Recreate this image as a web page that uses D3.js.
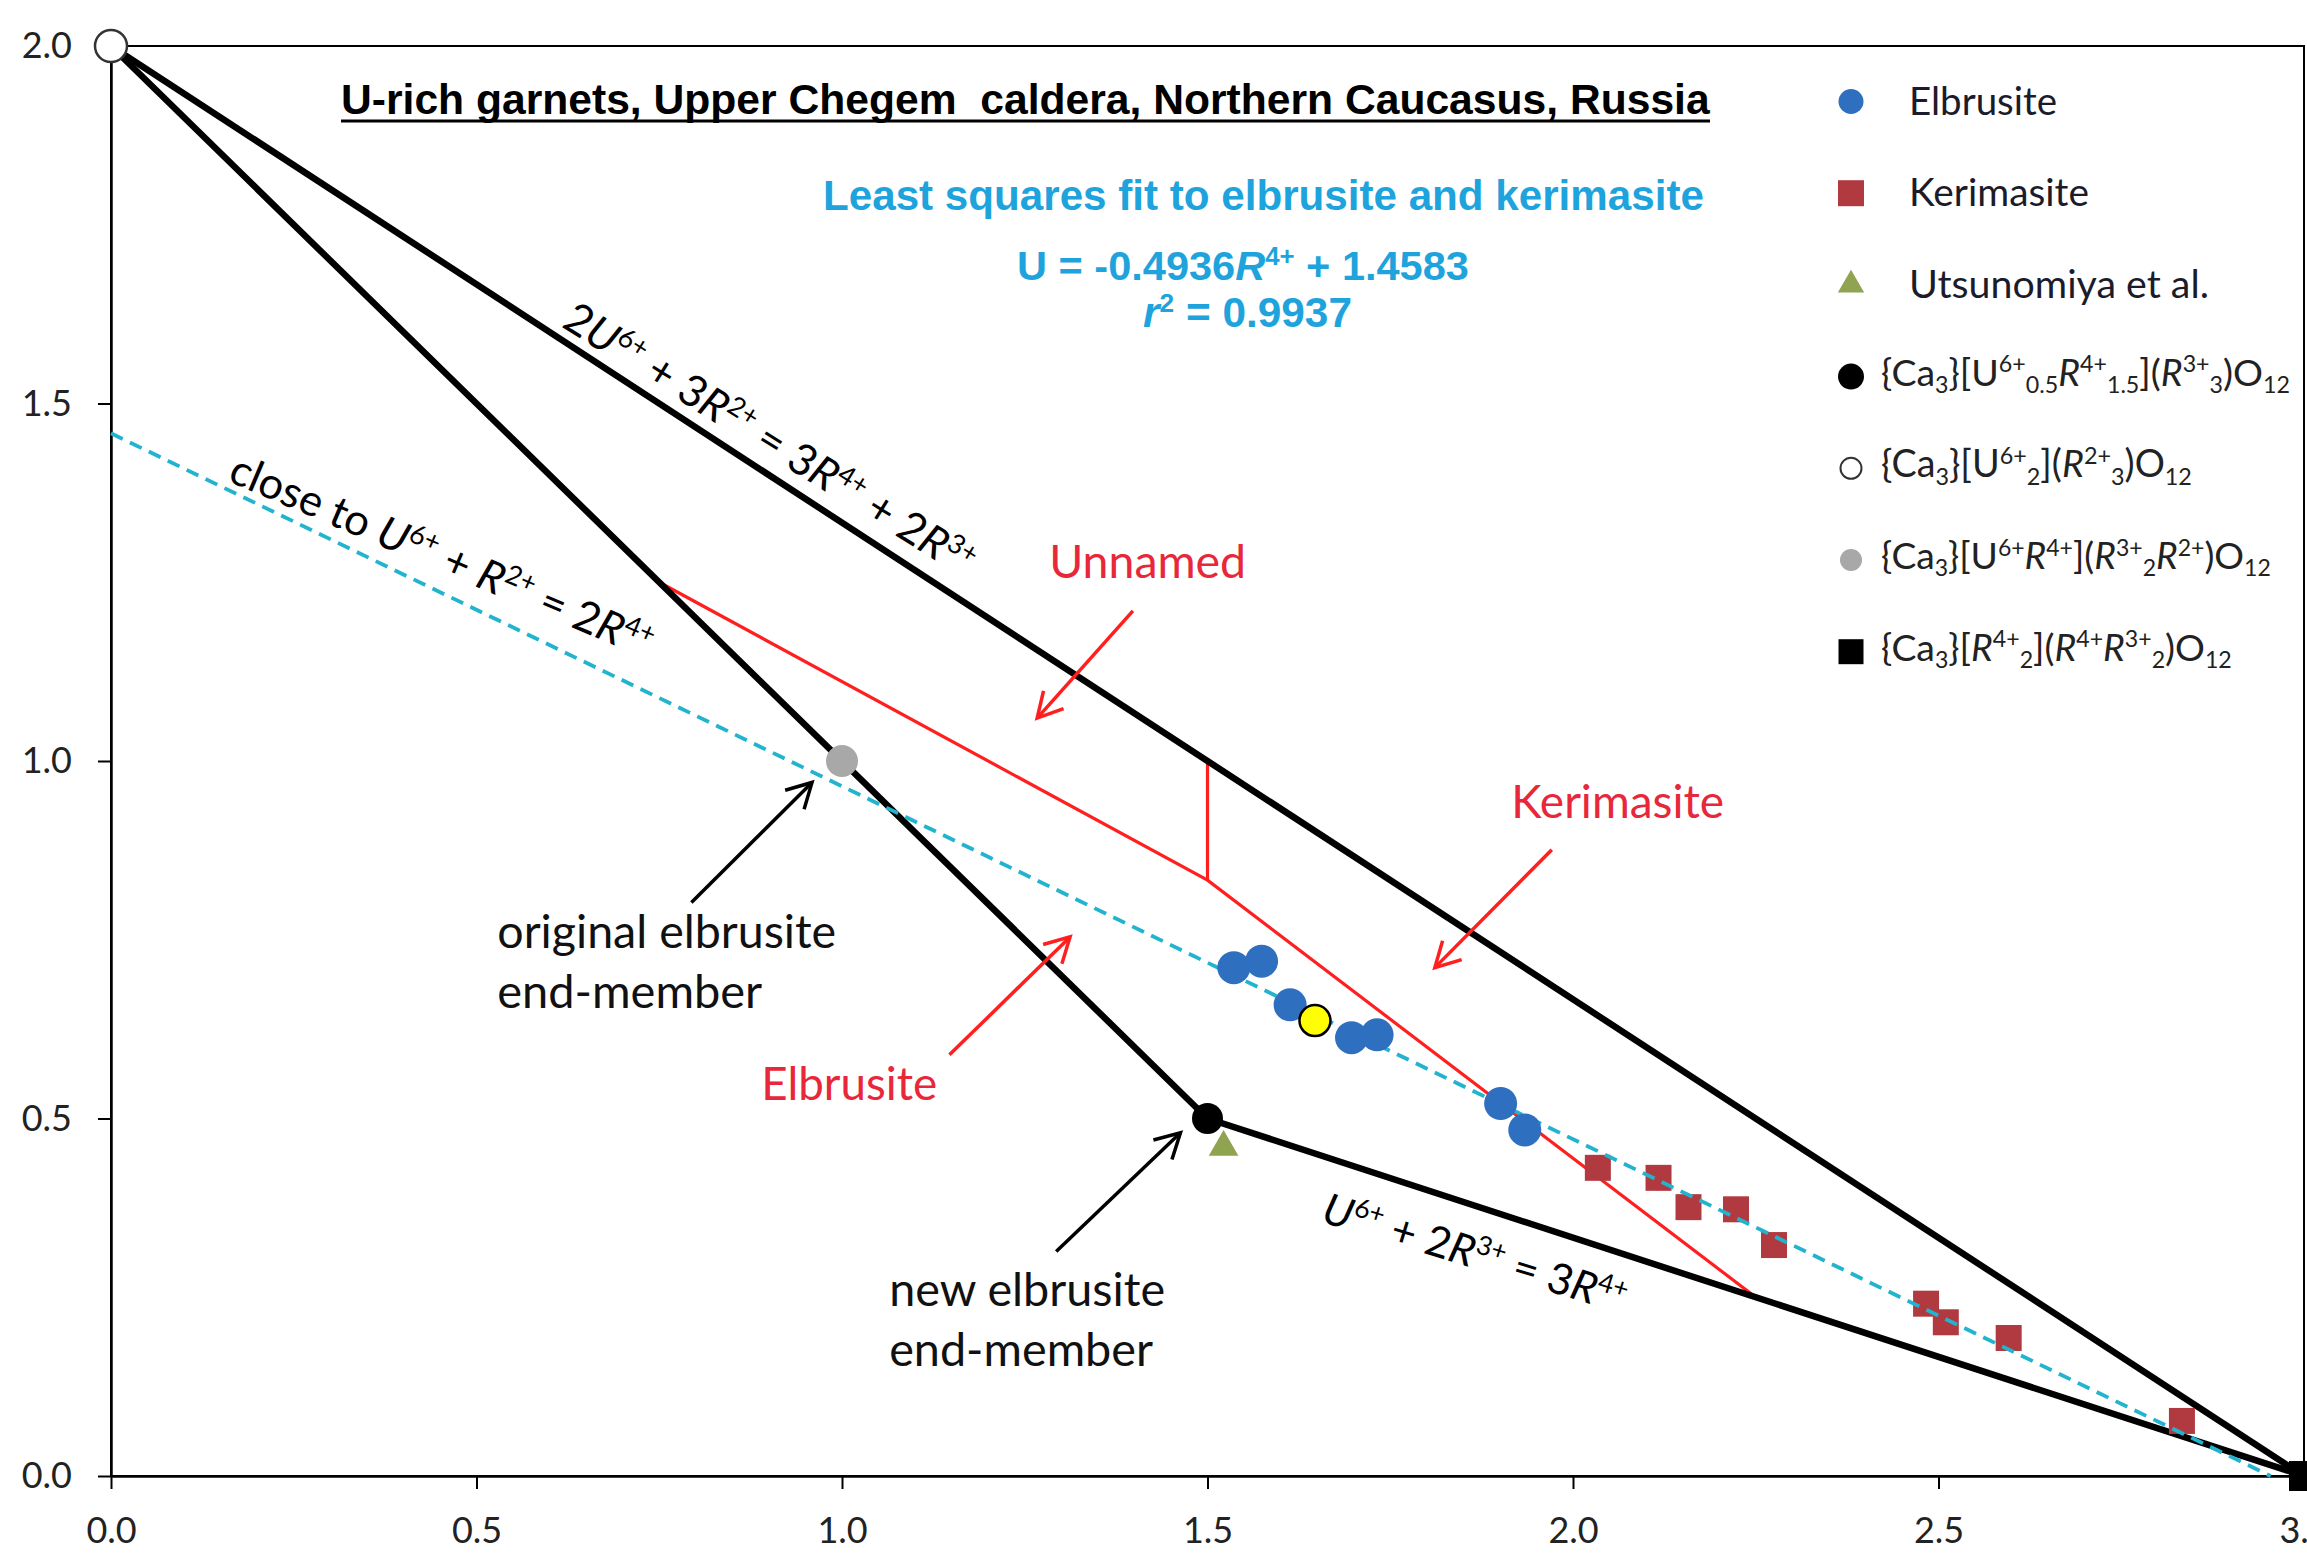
<!DOCTYPE html>
<html>
<head>
<meta charset="utf-8">
<script src="https://cdn.jsdelivr.net/npm/d3@7"></script>
<style>
  body { margin: 0; background: #fff; }
  svg { display: block; }
</style>
</head>
<body>
<div id="wrapper"></div>
<script>
// axis ticks
const xTicks = [0, 0.5, 1, 1.5, 2, 2.5, 3];
const yTicks = [0, 0.5, 1, 1.5, 2];

const elbrusiteX = [1.536, 1.574, 1.613, 1.697, 1.732, 1.901, 1.934];
const elbrusiteY = [0.711, 0.720, 0.659, 0.613, 0.617, 0.521, 0.484];
const kerimasiteX = [2.034, 2.117, 2.158, 2.223, 2.275, 2.483, 2.510, 2.596, 2.833];
const kerimasiteY = [0.431, 0.417, 0.376, 0.373, 0.323, 0.241, 0.215, 0.193, 0.077];
const utsunomiyaX = [1.522];
const utsunomiyaY = [0.46];
const highlightX = [1.647];
const highlightY = [0.637];

// end-members: {Ca3}[U0.5R1.5](R3), {Ca3}[U2](R3), {Ca3}[UR](R2R), {Ca3}[R2](RR2)
const endMemberX = [1.5, 0, 1, 3];
const endMemberY = [0.5, 2, 1, 0];

// tie lines and field boundaries
const boundaryLines = [
    [[0, 2], [3, 0]],
    [[0, 2], [1.5, 0.5], [3, 0]]
];
const fieldLines = [
    [[0.75, 1.25], [1.5, 0.8333], [2.25, 0.25]],
    [[1.5, 0.8333], [1.5, 1.0]]
];

// least squares fit
const fitSlope = -0.4936;
const fitIntercept = 1.4583;

const legendLabels = [
    [["Elbrusite"]],
    [["Kerimasite"]],
    [["Utsunomiya et al."]],
    [["{Ca"], ["3", "_"], ["}[U"], ["6+", "^"], ["0.5", "_"], ["R", "i"], ["4+", "^"], ["1.5", "_"], ["]("], ["R", "i"], ["3+", "^"], ["3", "_"], [")O"], ["12", "_"]],
    [["{Ca"], ["3", "_"], ["}[U"], ["6+", "^"], ["2", "_"], ["]("], ["R", "i"], ["2+", "^"], ["3", "_"], [")O"], ["12", "_"]],
    [["{Ca"], ["3", "_"], ["}[U"], ["6+", "^"], ["R", "i"], ["4+", "^"], ["]("], ["R", "i"], ["3+", "^"], ["2", "_"], ["R", "i"], ["2+", "^"], [")O"], ["12", "_"]],
    [["{Ca"], ["3", "_"], ["}["], ["R", "i"], ["4+", "^"], ["2", "_"], ["]("], ["R", "i"], ["4+", "^"], ["R", "i"], ["3+", "^"], ["2", "_"], [")O"], ["12", "_"]]
];

function addRich(text, parts, size) {
    text.selectAll("tspan").remove();
    let cur = 0;
    parts.forEach(([s, f = ""]) => {
        const small = f.includes("^") || f.includes("_");
        const off = f.includes("^") ? -0.36 * size : f.includes("_") ? 0.2 * size : 0;
        text.append("tspan")
            .attr("dy", off - cur)
            .attr("font-size", small ? 0.62 * size : size)
            .attr("font-style", f.includes("i") ? "italic" : "normal")
            .text(s);
        cur = off;
    });
}

function fitRich(text, parts, size, w) {
    addRich(text, parts, size);
    const l = text.node().getComputedTextLength();
    addRich(text, parts, size * w / l);
}

function fitPlain(text, size, w) {
    text.attr("font-size", size);
    const l = text.node().getComputedTextLength();
    text.attr("font-size", size * w / l);
}

function buildPlot() {
    var dimension = {
        width: 2307,
        height: 1554,
        margin: { top: 46, left: 111, right: 3, bottom: 78 }
    };
    dimension.boundedWidth = dimension.width - dimension.margin.left - dimension.margin.right;
    dimension.boundedHeight = dimension.height - dimension.margin.top - dimension.margin.bottom;

    const svg = d3.select("#wrapper").append("svg")
        .attr("width", dimension.width)
        .attr("height", dimension.height);
    svg.append("rect").attr("width", dimension.width).attr("height", dimension.height).attr("fill", "#fff");

    const bounded = svg.append("g")
        .attr("transform", `translate(${dimension.margin.left},${dimension.margin.top})`);

    const xScaler = d3.scaleLinear().domain([0, 3]).range([0, dimension.boundedWidth]);
    const yScaler = d3.scaleLinear().domain([0, 2]).range([dimension.boundedHeight, 0]);
    const px = d => xScaler(d[0]);
    const py = d => yScaler(d[1]);

    // plot frame
    bounded.append("rect")
        .attr("width", dimension.boundedWidth)
        .attr("height", dimension.boundedHeight)
        .attr("fill", "none")
        .attr("stroke", "#000")
        .attr("stroke-width", 2);

    const tickFont = "Lato, 'Open Sans', sans-serif";
    const xAxis = d3.axisBottom(xScaler).tickValues(xTicks).tickFormat(d3.format(".1f"))
        .tickSize(13).tickSizeOuter(0).tickPadding(28);
    const yAxis = d3.axisLeft(yScaler).tickValues(yTicks).tickFormat(d3.format(".1f"))
        .tickSize(13).tickSizeOuter(0).tickPadding(26);

    const gx = bounded.append("g")
        .attr("transform", `translate(0,${dimension.boundedHeight})`)
        .call(xAxis);
    const gy = bounded.append("g").call(yAxis);
    [gx, gy].forEach(g => {
        g.select(".domain").attr("stroke-width", 2.5);
        g.selectAll(".tick line").attr("stroke-width", 2);
        g.selectAll(".tick text")
            .attr("font-family", tickFont)
            .attr("font-size", 36)
            .attr("fill", "#222");
    });

    const lineGenerator = d3.line().x(px).y(py);

    // field boundaries in red
    bounded.selectAll(".field").data(fieldLines).join("path")
        .attr("d", lineGenerator)
        .attr("fill", "none")
        .attr("stroke", "#ff1f1f")
        .attr("stroke-width", 3.2);

    // tie lines
    bounded.selectAll(".tie").data(boundaryLines).join("path")
        .attr("d", lineGenerator)
        .attr("fill", "none")
        .attr("stroke", "#000")
        .attr("stroke-width", 6.5)
        .attr("stroke-linejoin", "round");

    // kerimasite squares
    bounded.append("g").selectAll("path")
        .data(d3.zip(kerimasiteX, kerimasiteY)).join("path")
        .attr("transform", d => `translate(${px(d)},${py(d)})`)
        .attr("d", d3.symbol(d3.symbolSquare, 26 * 26))
        .attr("fill", "#b03a40");

    // least squares fit line
    const fitEnd = -fitIntercept / fitSlope;
    bounded.append("path")
        .attr("d", lineGenerator([[0, fitIntercept], [fitEnd, fitIntercept + fitSlope * fitEnd]]))
        .attr("fill", "none")
        .attr("stroke", "#22b4cf")
        .attr("stroke-width", 3.8)
        .attr("stroke-dasharray", "13,8");

    // elbrusite circles
    bounded.append("g").selectAll("circle")
        .data(d3.zip(elbrusiteX, elbrusiteY)).join("circle")
        .attr("cx", px).attr("cy", py).attr("r", 16.5)
        .attr("fill", "#2f6fc0");

    bounded.append("g").selectAll("path")
        .data(d3.zip(utsunomiyaX, utsunomiyaY)).join("path")
        .attr("transform", d => `translate(${px(d)},${py(d)})`)
        .attr("d", d3.symbol(d3.symbolTriangle, 380))
        .attr("fill", "#8fa350");

    bounded.append("g").selectAll("circle")
        .data(d3.zip(highlightX, highlightY)).join("circle")
        .attr("cx", px).attr("cy", py).attr("r", 15.5)
        .attr("fill", "#ffff00")
        .attr("stroke", "#000")
        .attr("stroke-width", 2.5);

    // end-member markers
    const em = d3.zip(endMemberX, endMemberY);
    const emStyle = [
        { shape: "circle", fill: "#000", stroke: "none", r: 15.5 },
        { shape: "circle", fill: "#fff", stroke: "#333", r: 16 },
        { shape: "circle", fill: "#a8a8a8", stroke: "none", r: 16 },
        { shape: "square", fill: "#000", stroke: "none", r: 15 }
    ];
    em.forEach((d, i) => {
        const s = emStyle[i];
        if (s.shape === "circle") {
            bounded.append("circle").attr("cx", px(d)).attr("cy", py(d)).attr("r", s.r)
                .attr("fill", s.fill).attr("stroke", s.stroke).attr("stroke-width", 2.5);
        } else {
            bounded.append("path")
                .attr("transform", `translate(${px(d)},${py(d)})`)
                .attr("d", d3.symbol(d3.symbolSquare, 4 * s.r * s.r))
                .attr("fill", s.fill);
        }
    });

    // arrows
    function arrow(a, color) {
        const x1 = px(a[0]), y1 = py(a[0]), x2 = px(a[1]), y2 = py(a[1]);
        const ang = Math.atan2(y2 - y1, x2 - x1);
        const L = 28, spread = 0.5;
        bounded.append("line")
            .attr("x1", x1).attr("y1", y1).attr("x2", x2).attr("y2", y2)
            .attr("stroke", color).attr("stroke-width", 3.5);
        bounded.append("path")
            .attr("d", d3.line()([
                [x2 - L * Math.cos(ang - spread), y2 - L * Math.sin(ang - spread)],
                [x2, y2],
                [x2 - L * Math.cos(ang + spread), y2 - L * Math.sin(ang + spread)]
            ]))
            .attr("fill", "none").attr("stroke", color).attr("stroke-width", 3.5)
            .attr("stroke-linejoin", "miter");
    }
    const redArrows = [
        [[1.398, 1.210], [1.267, 1.060]],
        [[1.971, 0.876], [1.811, 0.711]],
        [[1.147, 0.589], [1.312, 0.754]]
    ];
    const blackArrows = [
        [[0.794, 0.802], [0.959, 0.970]],
        [[1.293, 0.314], [1.463, 0.480]]
    ];
    redArrows.forEach(a => arrow(a, "#ff1f1f"));
    blackArrows.forEach(a => arrow(a, "#000"));

    // annotation labels: [text, x, y, width, colour]
    const annFont = "Lato, 'Open Sans', sans-serif";
    const notes = [
        ["Unnamed", 1.2834, 1.2562, 197, "#e8283a"],
        ["Kerimasite", 1.9154, 0.9207, 213, "#e8283a"],
        ["Elbrusite", 0.8895, 0.5264, 176, "#e8283a"],
        ["original elbrusite", 0.5284, 0.7389, 339, "#111"],
        ["end-member", 0.5284, 0.6550, 265, "#111"],
        ["new elbrusite", 1.0645, 0.2384, 276, "#111"],
        ["end-member", 1.0645, 0.1545, 264, "#111"]
    ];
    notes.forEach(n => {
        const t = bounded.append("text")
            .attr("x", xScaler(n[1])).attr("y", yScaler(n[2]))
            .attr("font-family", annFont)
            .attr("fill", n[4])
            .text(n[0]);
        fitPlain(t, 40, n[3]);
    });

    // reaction labels along the lines
    const reactions = [
        { parts: [["2"], ["U", "i"], ["6+", "^"], [" + 3"], ["R", "i"], ["2+", "^"], [" = 3"], ["R", "i"], ["4+", "^"], [" + 2"], ["R", "i"], ["3+", "^"]],
          at: [0.615, 1.608], angle: 32, w: 475 },
        { parts: [["close to "], ["U", "i"], ["6+", "^"], [" + "], ["R", "i"], ["2+", "^"], [" = 2"], ["R", "i"], ["4+", "^"]],
          at: [0.158, 1.392], angle: 23, w: 455 },
        { parts: [["U", "i"], ["6+", "^"], [" + 2"], ["R", "i"], ["3+", "^"], [" = 3"], ["R", "i"], ["4+", "^"]],
          at: [1.654, 0.356], angle: 17, w: 315 }
    ];
    reactions.forEach(r => {
        const t = bounded.append("text")
            .attr("transform", `translate(${px(r.at)},${py(r.at)}) rotate(${r.angle})`)
            .attr("font-family", annFont)
            .attr("fill", "#000")
            .style("white-space", "pre");
        fitRich(t, r.parts, 40, r.w);
    });

    // title
    const title = svg.append("text")
        .attr("x", 341).attr("y", 114)
        .attr("font-family", "'Liberation Sans', Arial, sans-serif")
        .attr("font-weight", "bold")
        .attr("fill", "#000")
        .style("white-space", "pre")
        .text("U-rich garnets, Upper Chegem  caldera, Northern Caucasus, Russia");
    fitPlain(title, 40, 1369);
    svg.append("line")
        .attr("x1", 341).attr("x2", 341 + 1369)
        .attr("y1", 121).attr("y2", 121)
        .attr("stroke", "#000").attr("stroke-width", 3);

    // fit annotation
    const cyan = "#1ea3dc";
    const fitTitle = svg.append("text")
        .attr("x", 823).attr("y", 210)
        .attr("font-family", "'Liberation Sans', Arial, sans-serif")
        .attr("font-weight", "bold")
        .attr("fill", cyan)
        .text("Least squares fit to elbrusite and kerimasite");
    fitPlain(fitTitle, 36, 881);

    const eq1 = svg.append("text")
        .attr("x", 1017).attr("y", 280)
        .attr("font-family", "'Liberation Sans', Arial, sans-serif")
        .attr("font-weight", "bold").attr("fill", cyan)
        .style("white-space", "pre");
    fitRich(eq1, [["U = " + fitSlope.toFixed(4)], ["R", "i"], ["4+", "^"], [" + " + fitIntercept.toFixed(4)]], 36, 452);
    const eq2 = svg.append("text")
        .attr("x", 1143).attr("y", 327)
        .attr("font-family", "'Liberation Sans', Arial, sans-serif")
        .attr("font-weight", "bold").attr("fill", cyan)
        .style("white-space", "pre");
    fitRich(eq2, [["r", "i"], ["2", "^"], [" = 0.9937"]], 36, 209);

    // legend
    const legendMarkers = [
        { type: d3.symbolCircle, size: Math.PI * 12.5 * 12.5, fill: "#2f6fc0" },
        { type: d3.symbolSquare, size: 26 * 26, fill: "#b03a40" },
        { type: d3.symbolTriangle, size: 300, fill: "#8fa350" },
        { type: d3.symbolCircle, size: Math.PI * 13 * 13, fill: "#000" },
        { type: d3.symbolCircle, size: Math.PI * 10.5 * 10.5, fill: "#fff", stroke: "#333" },
        { type: d3.symbolCircle, size: Math.PI * 11 * 11, fill: "#a8a8a8" },
        { type: d3.symbolSquare, size: 25 * 25, fill: "#000" }
    ];
    const legendWidths = [148, 180, 300, 409, 311, 390, 351];
    const legend = svg.append("g");
    legendLabels.forEach((parts, i) => {
        const yy = 101.5 + i * 91.7;
        const m = legendMarkers[i];
        legend.append("path")
            .attr("transform", `translate(1851,${yy})`)
            .attr("d", d3.symbol(m.type, m.size))
            .attr("fill", m.fill)
            .attr("stroke", m.stroke || "none")
            .attr("stroke-width", 2);
        const t = legend.append("text")
            .attr("x", i < 3 ? 1909 : 1881)
            .attr("y", yy + (i < 3 ? 13 : 9))
            .attr("font-family", annFont)
            .attr("fill", i < 3 ? "#1b1b2a" : "#222");
        fitRich(t, parts, i < 3 ? 36 : 28, legendWidths[i]);
    });
}

buildPlot();
</script>
</body>
</html>
